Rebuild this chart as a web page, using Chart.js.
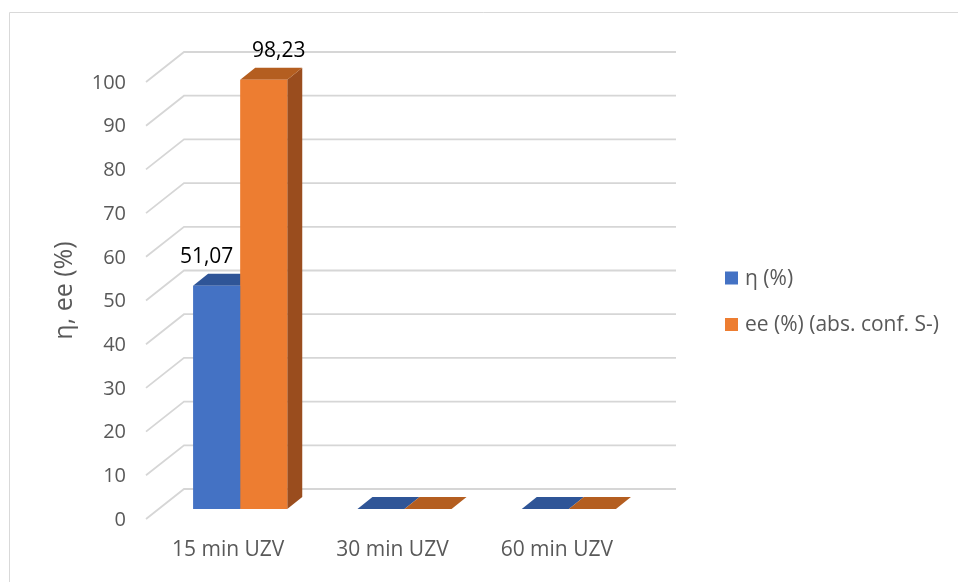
<!DOCTYPE html>
<html>
<head>
<meta charset="utf-8">
<script src="https://cdn.jsdelivr.net/npm/chart.js@4.4.1/dist/chart.umd.min.js"></script>
<style>
  html, body { margin: 0; padding: 0; background: #fff; }
  #wrap { width: 958px; height: 582px; }
</style>
</head>
<body>
<div id="wrap"><canvas id="chart" width="958" height="582"></canvas></div>
<script>
  const categories = ['15 min UZV', '30 min UZV', '60 min UZV'];
  const etaValues = [51.07, 0, 0];
  const eeValues = [98.23, 0, 0];
  const seriesNames = ['η (%)', 'ee (%) (abs. conf. S-)'];
  const yMin = 0, yMax = 100, yStep = 10;

  const FONT = "'Open Sans', sans-serif";
  const GREY = '#595959';
  const DX = 15, DY = 12; // depth of the bars

  function poly(ctx, pts) {
    ctx.beginPath();
    ctx.moveTo(pts[0][0], pts[0][1]);
    pts.slice(1).forEach(p => ctx.lineTo(p[0], p[1]));
    ctx.closePath();
    ctx.fill();
  }

  const depthPlugin = {
    id: 'depth',
    beforeDraw(chart) {
      const ctx = chart.ctx;
      ctx.save();
      ctx.strokeStyle = '#d9d9d9';
      ctx.lineWidth = 1;
      ctx.beginPath();
      ctx.moveTo(958, 12.5);
      ctx.lineTo(9.5, 12.5);
      ctx.lineTo(9.5, 582);
      ctx.stroke();
      ctx.restore();
    },
    beforeDatasetsDraw(chart) {
      const { ctx, chartArea: a, scales: { y } } = chart;
      ctx.save();
      // wall gridlines
      ctx.strokeStyle = '#d6d6d6';
      ctx.lineWidth = 1.8;
      y.ticks.forEach(t => {
        const py = y.getPixelForValue(t.value);
        ctx.beginPath();
        ctx.moveTo(a.left - 12, py + 10);
        ctx.lineTo(a.left + 26, py - 20);
        ctx.lineTo(a.right + 25, py - 20);
        ctx.stroke();
      });
      // side and top faces, fronts are drawn by Chart.js on top
      chart.data.datasets.forEach((ds, i) => {
        const meta = chart.getDatasetMeta(i);
        meta.data.forEach(bar => {
          const { x, y: top, base, width } = bar.getProps(['x', 'y', 'base', 'width'], true);
          const l = x - width / 2, r = x + width / 2;
          ctx.fillStyle = ds.sideColor;
          poly(ctx, [[r, top], [r + DX, top - DY], [r + DX, base - DY], [r, base]]);
          ctx.fillStyle = ds.topColor;
          poly(ctx, [[l, top], [l + DX, top - DY], [r + DX, top - DY], [r, top]]);
        });
      });
      ctx.restore();
    },
    afterDatasetsDraw(chart) {
      const ctx = chart.ctx;
      ctx.save();
      ctx.font = '21px ' + FONT;
      ctx.fillStyle = '#000';
      ctx.textAlign = 'center';
      ctx.textBaseline = 'middle';
      chart.data.datasets.forEach((ds, i) => {
        chart.getDatasetMeta(i).data.forEach((bar, j) => {
          const v = ds.data[j];
          if (!v) return;
          ctx.fillText(v.toFixed(2).replace('.', ','), bar.x + ds.labelShift, bar.y - 29);
        });
      });
      // legend
      ctx.font = '21px ' + FONT;
      ctx.textAlign = 'left';
      chart.data.datasets.forEach((ds, i) => {
        const ly = 278 + i * 46.5;
        ctx.fillStyle = ds.backgroundColor;
        ctx.fillRect(725, ly - 6.5, 13, 13);
        ctx.fillStyle = GREY;
        ctx.fillText(ds.label, 745, ly + 1);
      });
      ctx.restore();
    }
  };

  new Chart(document.getElementById('chart'), {
    type: 'bar',
    data: {
      labels: categories,
      datasets: [
        { label: seriesNames[0], data: etaValues, backgroundColor: '#4472c4', topColor: '#2f5597', sideColor: '#2b4f8f', labelShift: -10 },
        { label: seriesNames[1], data: eeValues, backgroundColor: '#ed7d31', topColor: '#b45e20', sideColor: '#9a4d1e', labelShift: 15 }
      ]
    },
    options: {
      responsive: false,
      animation: false,
      categoryPercentage: 0.573,
      barPercentage: 1.0,
      layout: { padding: { top: 72, right: 307, bottom: 0, left: 0 } },
      plugins: { legend: { display: false }, tooltip: { enabled: false } },
      scales: {
        x: {
          grid: { display: false, drawTicks: false },
          border: { display: false },
          ticks: { color: GREY, font: { family: FONT, size: 21 }, padding: 28, labelOffset: -12, maxRotation: 0 },
          afterFit(s) { s.height = 73; }
        },
        y: {
          min: yMin,
          max: yMax,
          grid: { display: false, drawTicks: false },
          border: { display: false },
          ticks: { stepSize: yStep, color: GREY, font: { family: FONT, size: 20 }, padding: 32, labelOffset: 11 },
          title: { display: true, text: 'η, ee (%)', color: GREY, font: { family: FONT, size: 25 }, padding: { top: 50, bottom: 0 } },
          afterFit(s) { s.width = 158; }
        }
      }
    },
    plugins: [depthPlugin]
  });
</script>
</body>
</html>
